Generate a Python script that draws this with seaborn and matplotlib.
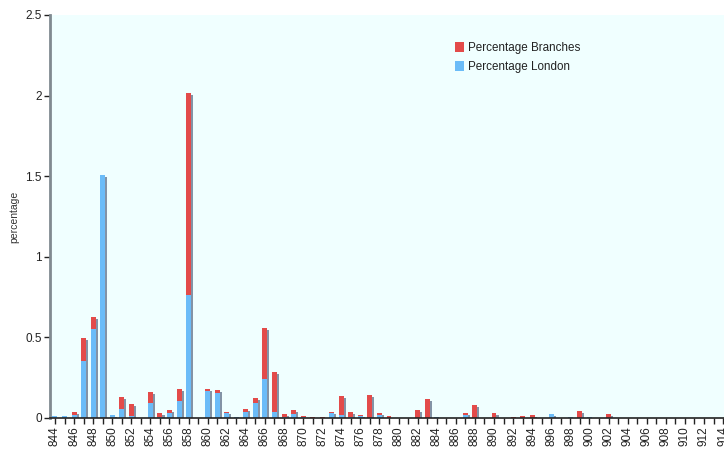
import matplotlib
matplotlib.use("Agg")
import matplotlib.pyplot as plt
import matplotlib.patheffects as pe
import seaborn as sns
import pandas as pd

# years 844 .. 914, one bar per year
years = list(range(844, 915))

# percentage London (bottom, blue)
london = [
    0.014, 0.014, 0.020, 0.356, 0.554, 1.510, 0.020, 0.058, 0.014, 0.0,     # 844-853
    0.095, 0.006, 0.033, 0.108, 0.765, 0.0, 0.170, 0.157, 0.033, 0.005,     # 854-863
    0.039, 0.095, 0.244, 0.039, 0.006, 0.027, 0.004, 0.0, 0.0, 0.033,       # 864-873
    0.020, 0.008, 0.014, 0.0, 0.020, 0.0, 0.0, 0.0, 0.0, 0.0,               # 874-883
    0.004, 0.0, 0.0, 0.020, 0.0, 0.0, 0.0, 0.0, 0.0, 0.0,                   # 884-893
    0.003, 0.0, 0.027, 0.0, 0.008, 0.0, 0.004, 0.0, 0.0, 0.0,               # 894-903
    0.0, 0.0, 0.0, 0.0, 0.0, 0.0, 0.0, 0.0, 0.0, 0.0, 0.0,                  # 904-914
]

# percentage Branches (stacked on top, red)
branches = [
    0.0, 0.0, 0.020, 0.142, 0.075, 0.0, 0.0, 0.074, 0.075, 0.0,             # 844-853
    0.068, 0.027, 0.019, 0.074, 1.253, 0.0, 0.012, 0.019, 0.006, 0.0,       # 854-863
    0.019, 0.031, 0.316, 0.248, 0.021, 0.025, 0.010, 0.008, 0.004, 0.006,   # 864-873
    0.119, 0.031, 0.006, 0.145, 0.013, 0.014, 0.0, 0.0, 0.052, 0.120,       # 874-883
    0.0, 0.0, 0.0, 0.013, 0.083, 0.0, 0.033, 0.0, 0.004, 0.014,             # 884-893
    0.017, 0.0, 0.0, 0.0, 0.0, 0.045, 0.0, 0.0, 0.027, 0.0,                 # 894-903
    0.003, 0.0, 0.0, 0.0, 0.0, 0.0, 0.0, 0.0, 0.0, 0.0, 0.003,              # 904-914
]

yticks = [0, 0.5, 1, 1.5, 2, 2.5]
ytick_labels = ["0", "0.5", "1", "1.5", "2", "2.5"]

df = pd.DataFrame({"year": [str(y) for y in years],
                   "london": london,
                   "branches": branches})
df["total"] = df["london"] + df["branches"]

sns.set_theme(style="white")
plt.rcParams["font.family"] = ["Liberation Sans", "DejaVu Sans"]

fig = plt.figure(figsize=(7.24, 4.5), dpi=100)
ax = fig.add_axes([50 / 724, 1 - 418 / 450, 1 - 50 / 724, (418 - 15) / 450])
ax.set_facecolor("#f0ffff")

sns.barplot(data=df, x="year", y="total", color="#e34b4a", saturation=1,
            width=0.52, label="Percentage Branches", ax=ax, linewidth=0)
sns.barplot(data=df, x="year", y="london", color="#6bbcf8", saturation=1,
            width=0.52, label="Percentage London", ax=ax, linewidth=0)

# legend first, so its squares stay flat (no shadow)
leg = ax.legend(loc="upper left", bbox_to_anchor=(0.594, 0.944), frameon=False,
                fontsize=8.4, handlelength=0.75, handleheight=0.95, handletextpad=0.35,
                labelspacing=0.6, borderaxespad=0)
for t in leg.get_texts():
    t.set_color("#222222")

shadow = [pe.SimplePatchShadow(offset=(1.5, -1.5), shadow_rgbFace="#8393a6", alpha=1.0),
          pe.Normal()]
for p in ax.patches:
    p.set_path_effects(shadow)

ax.set_ylim(0, 2.5)
ax.set_xlim(-0.52, 70.1)
ax.set_yticks(yticks)
ax.set_yticklabels(ytick_labels)
ax.set_xticks(range(len(years)))
ax.set_xticklabels([str(y) if (y - 844) % 2 == 0 else "" for y in years], rotation=90)
ax.tick_params(axis="both", direction="out", length=4, width=1, color="#222222",
               labelsize=8.5, labelcolor="#222222", left=True, bottom=True, pad=2)
ax.set_xlabel("")
ax.set_ylabel("percentage", fontsize=7.5, color="#333333")
ax.yaxis.set_label_coords(-0.046, 0.5)

for s in ["top", "right"]:
    ax.spines[s].set_visible(False)
ax.spines["left"].set_color("#808a90")
ax.spines["left"].set_linewidth(2)
ax.spines["bottom"].set_color("#222222")
ax.spines["bottom"].set_linewidth(1.2)

fig.savefig("out.png", dpi=100, facecolor="white")
